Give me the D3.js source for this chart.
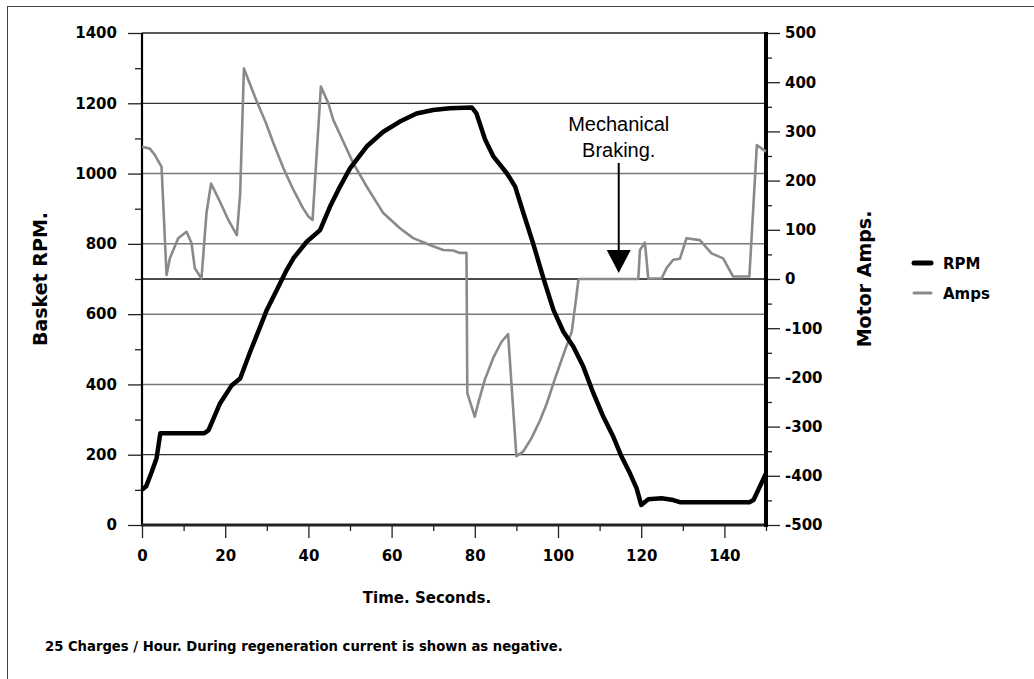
<!DOCTYPE html>
<html>
<head>
<meta charset="utf-8">
<script src="https://cdn.jsdelivr.net/npm/d3@7"></script>
<style>
  html, body { margin: 0; padding: 0; background: #fff; }
  svg { display: block; }
  .tick text { font-family: "DejaVu Sans", Verdana, sans-serif; font-weight: bold; font-size: 15px; fill: #000; }
</style>
</head>
<body>
<svg id="chart" width="1034" height="679"></svg>
<script>
// ---- Data ----
const xTicks = [0, 20, 40, 60, 80, 100, 120, 140];
const xMinorTicks = [10, 30, 50, 70, 90, 110, 130, 150];
const rpmTicks = [0, 200, 400, 600, 800, 1000, 1200, 1400];
const rpmMinorTicks = [100, 300, 500, 700, 900, 1100, 1300];
const ampsTicks = [-500, -400, -300, -200, -100, 0, 100, 200, 300, 400, 500];
const ampsMinorTicks = [-450, -350, -250, -150, -50, 50, 150, 250, 350, 450];
const gridDark = [200, 1200];
const gridLight = [400, 600, 800, 1000];

const rpmTime = [0, 1, 2.3, 3.5, 4.4, 15, 16, 18.75, 21.6, 23.6, 26, 28.4, 30, 32.4, 34.8, 36.4, 39.6, 42.8, 45.2, 47.6,
  50, 54, 58, 62, 66, 70, 74, 79.3, 80.4, 82.5, 84.5, 87.7, 89.7, 91.7, 94, 96.5, 98.9, 101.3, 103.7, 106.1,
  108.5, 110.9, 113.3, 115.3, 117.3, 118.9, 120, 121.7, 124.9, 127.7, 129.3, 146, 147, 150];
const rpmValues = [100, 110, 150, 190, 261, 261, 270, 346, 398, 417, 493, 564, 612, 669, 726, 759, 806, 839, 906, 963,
  1015, 1077, 1119, 1148, 1171, 1181, 1186, 1188, 1171, 1096, 1048, 1001, 963, 887, 802, 702, 612, 550, 507, 450,
  375, 308, 251, 194, 147, 104, 57, 73, 76, 71, 65, 65, 71, 147];

const ampsTime = [0, 1.9, 3.1, 4.7, 5.9, 6.7, 8.7, 10.7, 11.9, 12.7, 14.3, 15.5, 16.6, 18.75, 20.75, 22.8, 23.6, 24.5,
  27.3, 29.8, 31.6, 34, 36.4, 38.7, 40, 41, 43, 44.8, 46, 48.4, 50.8, 54, 58, 62, 65.2, 69.2, 72.4, 74.8, 76.4, 78,
  78.2, 80, 80.8, 82.4, 84.4, 86.4, 88, 90, 91.6, 93.6, 95.7, 97.3, 99.3, 101.3, 103.3, 104.1, 104.9, 105.2, 119.3,
  119.7, 120.9, 121.7, 124.9, 126.1, 127.7, 129.3, 130.9, 134.1, 136.9, 139.7, 142.1, 146, 147.8, 150];
const ampsValues = [269, 265, 252, 228, 8, 42, 83, 96, 73, 22, 1, 134, 194, 157, 120, 89, 174, 428,
  367, 317, 276, 225, 181, 144, 127, 120, 391, 357, 323, 279, 235, 188, 134, 103, 83, 69, 59, 58, 53, 53,
  -232, -280, -253, -205, -161, -128, -112, -360, -351, -324, -287, -253, -202, -154, -107, -56, -2, 0, 0,
  59, 74, 1, 1, 22, 39, 41, 83, 79, 52, 42, 5, 5, 272, 259];

// ---- Layout ----
const svg = d3.select("#chart");
const L = 142, R = 766, T = 33, B = 525;

const x = d3.scaleLinear().domain([0, 150]).range([L, R]);
const yL = d3.scaleLinear().domain([0, 1400]).range([B, T]);
const yR = d3.scaleLinear().domain([-500, 500]).range([B, T]);
const plain = d => String(d);

// Outer frame
svg.append("rect").attr("x", 7.5).attr("y", 6.5).attr("width", 1200).attr("height", 900)
  .attr("fill", "none").attr("stroke", "#444").attr("stroke-width", 1);

// Gridlines
const g = svg.append("g");
g.selectAll(".gl").data(gridLight).join("line")
  .attr("x1", L).attr("x2", R).attr("y1", d => yL(d)).attr("y2", d => yL(d))
  .attr("stroke", "#7a7a7a").attr("stroke-width", 1.5);
g.selectAll(".gd").data(gridDark).join("line")
  .attr("x1", L).attr("x2", R).attr("y1", d => yL(d)).attr("y2", d => yL(d))
  .attr("stroke", "#333").attr("stroke-width", 1.3);
// Amps zero line
g.append("line").attr("x1", L).attr("x2", R).attr("y1", yR(0)).attr("y2", yR(0))
  .attr("stroke", "#111").attr("stroke-width", 1.5);
// top border
g.append("line").attr("x1", L).attr("x2", R).attr("y1", T).attr("y2", T)
  .attr("stroke", "#222").attr("stroke-width", 1.3);

// Axes
function styleAxis(sel) {
  sel.select(".domain").remove();
  sel.selectAll(".tick line").attr("stroke", "#222").attr("stroke-width", 1.3);
}
svg.append("g").attr("transform", `translate(${L},0)`)
  .call(d3.axisLeft(yL).tickValues(rpmTicks).tickSize(14).tickPadding(11).tickFormat(plain))
  .call(styleAxis);
svg.append("g").attr("transform", `translate(${L},0)`)
  .call(d3.axisLeft(yL).tickValues(rpmMinorTicks).tickSize(7).tickFormat(""))
  .call(styleAxis);
svg.append("g").attr("transform", `translate(${R},0)`)
  .call(d3.axisRight(yR).tickValues(ampsTicks).tickSize(14).tickPadding(5).tickFormat(plain))
  .call(styleAxis);
svg.append("g").attr("transform", `translate(${R},0)`)
  .call(d3.axisRight(yR).tickValues(ampsMinorTicks).tickSize(6).tickFormat(""))
  .call(styleAxis);
svg.append("g").attr("transform", `translate(0,${B})`)
  .call(d3.axisBottom(x).tickValues(xTicks).tickSize(13).tickPadding(12).tickFormat(plain))
  .call(styleAxis);
svg.append("g").attr("transform", `translate(0,${B})`)
  .call(d3.axisBottom(x).tickValues(xMinorTicks).tickSize(6).tickFormat(""))
  .call(styleAxis);

// axis lines
svg.append("line").attr("x1", L).attr("x2", L).attr("y1", T).attr("y2", B + 1)
  .attr("stroke", "#000").attr("stroke-width", 2.2);
svg.append("line").attr("x1", L - 1).attr("x2", R).attr("y1", B).attr("y2", B)
  .attr("stroke", "#222").attr("stroke-width", 3);
svg.append("line").attr("x1", R).attr("x2", R).attr("y1", T - 1).attr("y2", B + 2)
  .attr("stroke", "#000").attr("stroke-width", 4);

// Lines
const rpmData = rpmTime.map((t, i) => [t, rpmValues[i]]);
const ampsData = ampsTime.map((t, i) => [t, ampsValues[i]]);
svg.append("path").datum(ampsData)
  .attr("d", d3.line().x(d => x(d[0])).y(d => yR(d[1])))
  .attr("fill", "none").attr("stroke", "#8a8a8a").attr("stroke-width", 2.6)
  .attr("stroke-linejoin", "round");
svg.append("path").datum(rpmData)
  .attr("d", d3.line().x(d => x(d[0])).y(d => yL(d[1])))
  .attr("fill", "none").attr("stroke", "#000").attr("stroke-width", 4.5)
  .attr("stroke-linejoin", "round");

// Titles
const bold = "DejaVu Sans, Verdana, sans-serif";
svg.append("text").attr("transform", `translate(47,${yL(700)}) rotate(-90)`)
  .attr("text-anchor", "middle").attr("font-family", bold).attr("font-weight", "bold")
  .attr("font-size", 19).text("Basket RPM.");
svg.append("text").attr("transform", `translate(871,${yL(700)}) rotate(-90)`)
  .attr("text-anchor", "middle").attr("font-family", bold).attr("font-weight", "bold")
  .attr("font-size", 19).text("Motor Amps.");
svg.append("text").attr("x", 427).attr("y", 603)
  .attr("text-anchor", "middle").attr("font-family", bold).attr("font-weight", "bold")
  .attr("font-size", 15).text("Time. Seconds.");
svg.append("text").attr("x", 45).attr("y", 651)
  .attr("font-family", bold).attr("font-weight", "bold")
  .attr("font-size", 13.2).text("25 Charges / Hour. During regeneration current is shown as negative.");

// Legend
const legend = [
  { name: "RPM", color: "#000", width: 5 },
  { name: "Amps", color: "#8a8a8a", width: 3 }
];
const lg = svg.append("g");
legend.forEach((d, i) => {
  const yy = 263 + i * 30;
  lg.append("line").attr("x1", 914).attr("x2", 931).attr("y1", yy).attr("y2", yy)
    .attr("stroke", d.color).attr("stroke-width", d.width).attr("stroke-linecap", "round");
  lg.append("text").attr("x", 943).attr("y", yy + 5.5)
    .attr("font-family", bold).attr("font-weight", "bold").attr("font-size", 15).text(d.name);
});

// Annotation
const ax = x(114.6);
svg.append("text").attr("x", ax).attr("y", 131).attr("text-anchor", "middle")
  .attr("font-family", "Liberation Sans, Arial, sans-serif").attr("font-size", 20).text("Mechanical");
svg.append("text").attr("x", ax).attr("y", 157).attr("text-anchor", "middle")
  .attr("font-family", "Liberation Sans, Arial, sans-serif").attr("font-size", 20).text("Braking.");
svg.append("line").attr("x1", ax).attr("x2", ax).attr("y1", 163).attr("y2", 252)
  .attr("stroke", "#000").attr("stroke-width", 2);
svg.append("path").attr("d", `M${ax - 12},250 L${ax + 12},250 L${ax},273 Z`).attr("fill", "#000");
</script>
</body>
</html>
